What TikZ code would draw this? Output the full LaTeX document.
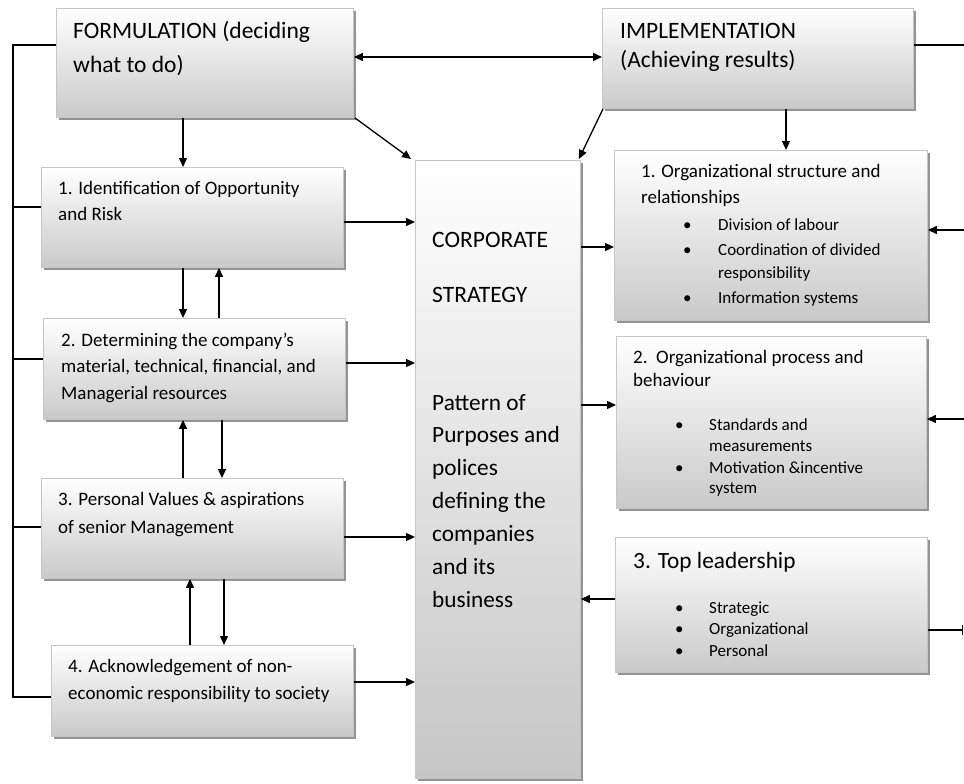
\documentclass[tikz,border=0pt]{standalone}
\usepackage{fontspec}
\setmainfont{Carlito}
\usetikzlibrary{arrows.meta,shadows,calc}
\begin{document}
\begin{tikzpicture}[x=1pt,y=-1pt,
  box/.style={rectangle, draw=gray!45, line width=0.9pt, top color=white, bottom color=gray!42,
    anchor=north west, inner sep=0pt,
    drop shadow={shadow xshift=2.5pt, shadow yshift=-2.5pt, fill=gray!85, opacity=1}},
  ln/.style={line width=1.3pt},
  arr/.style={line width=1.3pt, -{Triangle[length=9pt,width=8pt]}},
  tx/.style={anchor=base west, inner sep=0pt},
  fbig/.style={font=\fontsize{23.5}{28}\selectfont},
  fmain/.style={font=\fontsize{19}{23}\selectfont},
  fbul/.style={font=\fontsize{17}{20}\selectfont},
  fpat/.style={font=\fontsize{23.3}{28}\selectfont}]
\useasboundingbox (0,0) rectangle (964,784);

% boxes
\node[box, minimum width=297pt, minimum height=109pt] (form) at (56,8) {};
\node[box, minimum width=311pt, minimum height=100pt] (impl) at (602,8) {};
\node[box, minimum width=302pt, minimum height=100pt] (L1) at (41,167) {};
\node[box, minimum width=302pt, minimum height=101pt] (L2) at (43,318) {};
\node[box, minimum width=302pt, minimum height=100pt] (L3) at (41,478) {};
\node[box, minimum width=302pt, minimum height=91pt] (L4) at (51,645) {};
\node[box, minimum width=165pt, minimum height=618pt, bottom color=gray!45] (corp) at (415,160) {};
\node[box, minimum width=313pt, minimum height=170pt] (R1) at (614,150) {};
\node[box, minimum width=310pt, minimum height=172pt] (R2) at (616,336) {};
\node[box, minimum width=312pt, minimum height=135pt] (R3) at (615,537) {};

% texts
\node[tx,fbig] (fa) at (73,39) {FORMULATION (deciding};
\node[tx,fbig] (fb) at (73,73) {what to do)};
\node[tx,fbig] (ia) at (620,39) {IMPLEMENTATION};
\node[tx,fbig] (ib) at (620,68) {(Achieving results)};

\node[tx,fmain] (l1a) at (58,194) {1. Identification of Opportunity};
\node[tx,fmain] (l1b) at (58,220) {and Risk};
\node[tx,fmain] (l2a) at (61,346) {2. Determining the company’s};
\node[tx,fmain] (l2b) at (61,372) {material, technical, financial, and};
\node[tx,fmain] (l2c) at (61,399) {Managerial resources};
\node[tx,fmain] (l3a) at (58,505) {3. Personal Values \& aspirations};
\node[tx,fmain] (l3b) at (58,533) {of senior Management};
\node[tx,fmain] (l4a) at (68,672) {4. Acknowledgement of non-};
\node[tx,fmain] (l4b) at (68,699) {economic responsibility to society};

\node[tx,fbig] (c1) at (432,247) {CORPORATE};
\node[tx,fbig] (c2) at (432,302) {STRATEGY};
\node[tx,fpat] (c3) at (432,410) {Pattern of};
\node[tx,fpat] (c4) at (432,442) {Purposes and};
\node[tx,fpat] (c5) at (432,475) {polices};
\node[tx,fpat] (c6) at (432,508) {defining the};
\node[tx,fpat] (c7) at (432,541) {companies};
\node[tx,fpat] (c8) at (432,574) {and its};
\node[tx,fpat] (c9) at (432,607) {business};

\node[tx,fmain] (r1a) at (641,177) {1. Organizational structure and};
\node[tx,fmain] (r1b) at (641,203) {relationships};
\node[tx,fbul] (r1c) at (683,230) {•};
\node[tx,fbul] (r1d) at (718,230) {Division of labour};
\node[tx,fbul] (r1e) at (683,255) {•};
\node[tx,fbul] (r1f) at (718,255) {Coordination of divided};
\node[tx,fbul] (r1g) at (718,278) {responsibility};
\node[tx,fbul] (r1h) at (683,303) {•};
\node[tx,fbul] (r1i) at (718,303) {Information systems};

\node[tx,fmain] (r2a) at (633,363) {2.\ \ Organizational process and};
\node[tx,fmain] (r2b) at (633,386) {behaviour};
\node[tx,fbul] (r2c) at (675,430) {•};
\node[tx,fbul] (r2d) at (709,430) {Standards and};
\node[tx,fbul] (r2e) at (709,451) {measurements};
\node[tx,fbul] (r2f) at (675,473) {•};
\node[tx,fbul] (r2g) at (709,473) {Motivation \&incentive};
\node[tx,fbul] (r2h) at (709,493) {system};

\node[tx,fpat] (r3a) at (633,568) {3. Top leadership};
\node[tx,fbul] (r3b) at (675,613) {•};
\node[tx,fbul] (r3c) at (709,613) {Strategic};
\node[tx,fbul] (r3d) at (675,634) {•};
\node[tx,fbul] (r3e) at (709,634) {Organizational};
\node[tx,fbul] (r3f) at (675,656) {•};
\node[tx,fbul] (r3g) at (709,656) {Personal};

% free ends
\coordinate (busT) at (13,45);
\coordinate (busB) at (13,697);
\coordinate (b1) at (13,207);
\coordinate (b2) at (13,359);
\coordinate (b3) at (13,527);
\coordinate (eT) at (964,45);
\coordinate (e1) at (964,230);
\coordinate (e2) at (964,419);
\coordinate (e3) at (964,630);

% left bus
\draw[ln] (form.west |- busT) -- (busT) -- (busB) -- (busB -| L4.west);
\draw[ln] (b1) -- (b1 -| L1.west);
\draw[ln] (b2) -- (b2 -| L2.west);
\draw[ln] (b3) -- (b3 -| L3.west);

% top
\draw[line width=1.3pt, {Triangle[length=9pt,width=8pt]}-{Triangle[length=9pt,width=8pt]}]
  (form.east |- 0,57) -- (impl.west |- 0,57);
\draw[ln] (impl.east |- eT) -- (eT);
\draw[arr] (183,0 |- form.south) -- (183,0 |- L1.north);
\draw[arr] ([xshift=1pt]form.south east) -- ([xshift=-4pt,yshift=1pt]corp.north west);
\draw[arr] ([xshift=1pt]impl.south west) -- ([xshift=-2pt,yshift=1pt]corp.north east);
\draw[arr] (786,0 |- impl.south) -- (786,0 |- R1.north);

% between left boxes
\draw[arr] (183,0 |- L1.south) -- (183,0 |- L2.north);
\draw[arr] (219,0 |- L2.north) -- (219,0 |- L1.south);
\draw[arr] (183,0 |- L3.north) -- (183,0 |- L2.south);
\draw[arr] (222,0 |- L2.south) -- (222,0 |- L3.north);
\draw[arr] (190,0 |- L4.north) -- (190,0 |- L3.south);
\draw[arr] (224,0 |- L3.south) -- (224,0 |- L4.north);

% into corporate
\draw[arr] (L1.east |- 0,222) -- (corp.west |- 0,222);
\draw[arr] (L2.east |- 0,363) -- (corp.west |- 0,363);
\draw[arr] (L3.east |- 0,537) -- (corp.west |- 0,537);
\draw[arr] (L4.east |- 0,682) -- (corp.west |- 0,682);

% right side
\draw[arr] (corp.east |- 0,247) -- (R1.west |- 0,247);
\draw[arr] (corp.east |- 0,405) -- (R2.west |- 0,405);
\draw[arr] (R3.west |- 0,599) -- (corp.east |- 0,599);
\draw[arr] (e1) -- (e1 -| R1.east);
\draw[arr] (e2) -- (e2 -| R2.east);
\draw[line width=1.3pt, -{Bar[width=10pt]}] (R3.east |- e3) -- ([xshift=-1pt]e3);
\end{tikzpicture}
\end{document}
